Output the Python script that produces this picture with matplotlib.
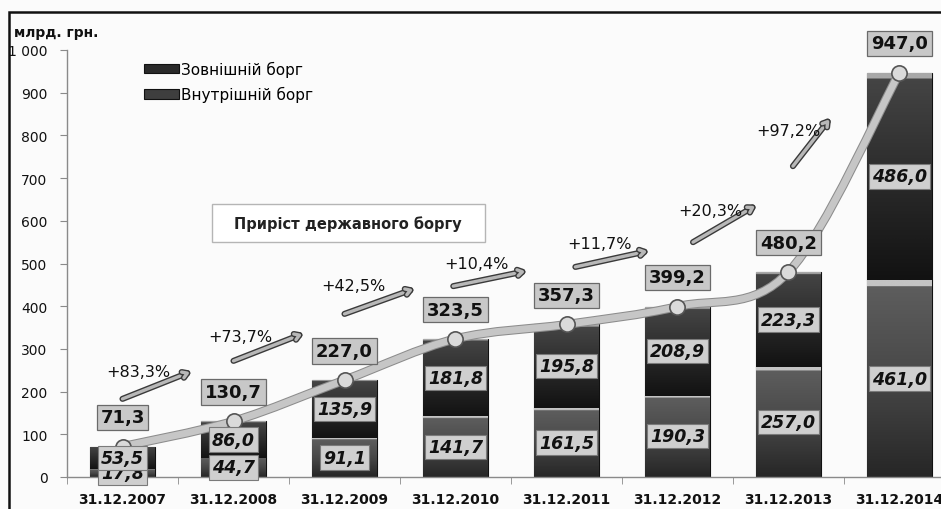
import numpy as np
import matplotlib
matplotlib.use("Agg")
import matplotlib.pyplot as plt
from matplotlib.path import Path
from matplotlib.patches import PathPatch, Rectangle, Patch
from matplotlib.ticker import FuncFormatter, MultipleLocator, FixedLocator
import matplotlib.patheffects as pe
from matplotlib.colors import LinearSegmentedColormap

# ---------------- data ----------------
dates = ['31.12.2007', '31.12.2008', '31.12.2009', '31.12.2010',
         '31.12.2011', '31.12.2012', '31.12.2013', '31.12.2014']
domestic = [17.8, 44.7, 91.1, 141.7, 161.5, 190.3, 257.0, 461.0]   # Внутрішній борг
external = [53.5, 86.0, 135.9, 181.8, 195.8, 208.9, 223.3, 486.0]  # Зовнішній борг
totals = [71.3, 130.7, 227.0, 323.5, 357.3, 399.2, 480.2, 947.0]
growth = ['+83,3%', '+73,7%', '+42,5%', '+10,4%', '+11,7%', '+20,3%', '+97,2%']

# ---------------- layout / style ----------------
W, H = 941, 510
fig = plt.figure(figsize=(W / 100, H / 100), dpi=100)
fig.patch.set_facecolor('#fbfbfb')
ax = fig.add_axes([67 / W, 32 / H, 888 / W, 427 / H])
ax.set_facecolor('#fbfbfb')

x = np.arange(len(dates))
bw = 0.58

def fmt(v):
    return f"{v:.1f}".replace('.', ',')

b1 = ax.bar(x, domestic, bw, color='#505050', edgecolor='#111111', lw=0.8, zorder=1)
b2 = ax.bar(x, external, bw, bottom=domestic, color='#303030', edgecolor='#111111', lw=0.8, zorder=1)

cm_dom = LinearSegmentedColormap.from_list('dom', ['#262626', '#474747', '#5e5e5e', '#c4c4c4'])
cm_ext = LinearSegmentedColormap.from_list('ext', ['#121212', '#2b2b2b', '#454545', '#a8a8a8'])
grad = np.linspace(0, 1, 256).reshape(-1, 1)
grad = np.where(grad > 0.97, 1.0, grad * 0.66 / 0.97)
for bars, cmap in ((b1, cm_dom), (b2, cm_ext)):
    for p in bars:
        x0, y0, w, h = p.get_x(), p.get_y(), p.get_width(), p.get_height()
        im = ax.imshow(grad, cmap=cmap, vmin=0, vmax=1, origin='lower',
                       extent=[x0, x0 + w, y0, y0 + h], aspect='auto', zorder=1.2,
                       interpolation='bilinear')
        im.set_clip_path(p)

# smooth total line (Catmull-Rom style Bezier through the points)
pts = np.column_stack([x, totals]).astype(float)
verts = [pts[0]]
codes = [Path.MOVETO]
for i in range(len(pts) - 1):
    p0 = pts[i - 1] if i > 0 else pts[i]
    p1, p2 = pts[i], pts[i + 1]
    p3 = pts[i + 2] if i + 2 < len(pts) else pts[i + 1]
    c1 = p1 + (p2 - p0) / 6.0
    c2 = p2 - (p3 - p1) / 6.0
    verts += [c1, c2, p2]
    codes += [Path.CURVE4] * 3
line = PathPatch(Path(verts, codes), fill=False, edgecolor='#c6c6c6', lw=5, zorder=3,
                 capstyle='round')
line.set_path_effects([pe.Stroke(linewidth=6.5, foreground='#8c8c8c'), pe.Normal()])
ax.add_patch(line)
ax.plot(x, totals, 'o', ms=11, mfc='#dadada', mec='#555555', mew=1.2, zorder=3.5)

# value labels
seg_box = dict(boxstyle='square,pad=0.18', fc='#cfcfcf', ec='#7a7a7a', lw=0.8)
tot_box = dict(boxstyle='square,pad=0.2', fc='#c8c8c8', ec='#6a6a6a', lw=0.9)
for i in x:
    ax.text(i, domestic[i] / 2, fmt(domestic[i]), ha='center', va='center', fontsize=12.5,
            fontweight='bold', fontstyle='italic', color='#111111', bbox=seg_box, zorder=4)
    ax.text(i, domestic[i] + external[i] / 2, fmt(external[i]), ha='center', va='center',
            fontsize=12.5, fontweight='bold', fontstyle='italic', color='#111111',
            bbox=seg_box, zorder=4)
    ax.annotate(fmt(totals[i]), (i, totals[i]), xytext=(0, 21), textcoords='offset points',
                ha='center', va='center', fontsize=13, fontweight='bold', color='#111111',
                bbox=tot_box, zorder=4)

# growth arrows (layout positions in data units)
arrow_start = [(0.0, 183), (1.0, 272), (2.0, 382), (2.98, 447), (4.08, 492), (5.14, 550), (6.04, 728)]
arrow_end = [(0.61, 246), (1.62, 335), (2.62, 440), (3.63, 482), (4.73, 529), (5.70, 635), (6.37, 838)]
text_pos = [(0.14, 248), (1.06, 330), (2.08, 449), (3.19, 501), (4.30, 548), (5.30, 625), (6.0, 812)]
for g, s, e, t in zip(growth, arrow_start, arrow_end, text_pos):
    ax.annotate('', xy=e, xytext=s,
                arrowprops=dict(arrowstyle='->,head_length=0.35,head_width=0.22',
                                lw=2.4, color='#b8b8b8', shrinkA=0, shrinkB=0,
                                path_effects=[pe.Stroke(linewidth=4.4, foreground='#3a3a3a'),
                                              pe.Normal()]),
                zorder=2)
    ax.text(t[0], t[1], g, ha='center', va='center', fontsize=11.5, color='#111111', zorder=2.5)

# axes
ax.set_xlim(-0.5, len(dates) - 0.5)
ax.set_ylim(0, 1000)
ax.yaxis.set_major_locator(MultipleLocator(100))
ax.yaxis.set_major_formatter(FuncFormatter(
    lambda v, p: f"{int(v):,}".replace(',', '\u00a0')))
ax.set_xticks(x)
ax.set_xticklabels(dates, fontsize=10, fontweight='bold', color='#111111')
ax.xaxis.set_minor_locator(FixedLocator(np.arange(-0.5, len(dates), 1.0)))
ax.tick_params(axis='x', which='major', length=0, pad=11)
ax.tick_params(axis='x', which='minor', length=5, color='#8a8a8a', direction='out')
ax.tick_params(axis='y', length=5, color='#8a8a8a', pad=9, labelsize=10, labelcolor='#111111')
for s in ('top', 'right'):
    ax.spines[s].set_visible(False)
for s in ('left', 'bottom'):
    ax.spines[s].set_color('#8a8a8a')
    ax.spines[s].set_linewidth(1)

# legend
handles = [Patch(fc='#2a2a2a', ec='#111111', lw=0.8), Patch(fc='#3e3e3e', ec='#111111', lw=0.8)]
leg = ax.legend(handles, ['Зовнішній борг', 'Внутрішній борг'], loc='upper left',
                bbox_to_anchor=(66 / 888, 1.0), frameon=False, fontsize=11,
                handlelength=2.3, handleheight=0.6, handletextpad=0.15, labelspacing=0.6,
                borderaxespad=0.3)

# y unit label
fig.text(14 / W, 1 - 33 / H, 'млрд. грн.', fontsize=10, fontweight='bold',
         ha='left', va='center', color='#111111')

# caption box
fig.patches.append(Rectangle((212 / W, 1 - 243 / H), 273 / W, 38 / H, transform=fig.transFigure,
                             fc='white', ec='#b5b5b5', lw=1, zorder=5))
fig.text(348 / W, 1 - 224 / H, 'Приріст державного боргу', fontsize=10.5, fontweight='bold',
         ha='center', va='center', color='#222222', zorder=6)

# outer frame
fig.patches.append(Rectangle((9 / W, -0.1), 2, 1.1 - 13 / H, transform=fig.transFigure,
                             fill=False, ec='#111111', lw=1.8, zorder=10))

fig.savefig('out.png', dpi=100, facecolor=fig.get_facecolor())
